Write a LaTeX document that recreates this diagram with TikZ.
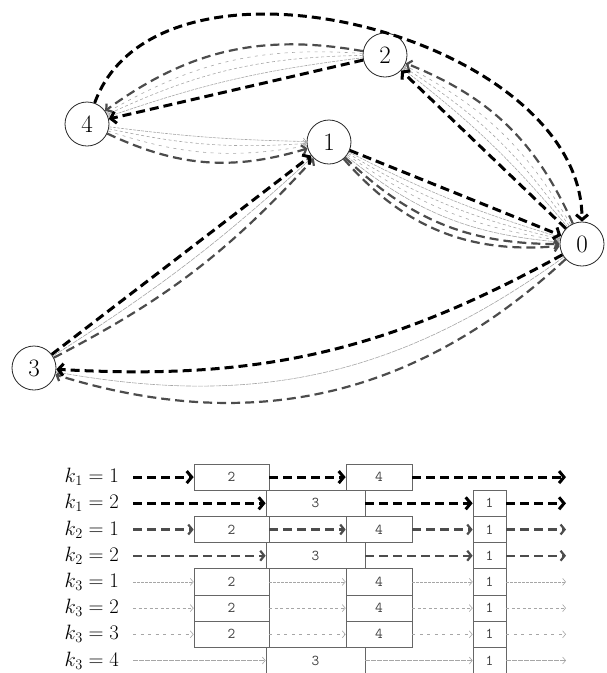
\documentclass[tikz,border=0pt]{standalone}
\usetikzlibrary{arrows.meta}
\begin{document}
\begin{tikzpicture}[x=1pt,y=1pt,
  vnode/.style={circle, draw=black!85, line width=0.8pt, minimum size=44pt, inner sep=0pt, fill=white, font=\fontsize{25}{29}\selectfont},
  kone/.style={draw=black, line width=3pt, dash pattern=on 9pt off 5pt, -{Straight Barb[length=5pt,width=12pt]}},
  ktwo/.style={draw=black!70, line width=2.2pt, dash pattern=on 9pt off 5pt, -{Straight Barb[length=4pt,width=10pt]}},
  kthree/.style={draw=black!35, line width=0.6pt, -{Straight Barb[length=3pt,width=7pt]}},
  kthreea/.style={kthree, dash pattern=on 3pt off 1pt},
  kthreeb/.style={kthree, dash pattern=on 3pt off 2.5pt},
  kthreec/.style={kthree, dash pattern=on 3pt off 4.5pt},
  kthreed/.style={kthree, dash pattern=on 5pt off 1pt},
  box/.style={draw=black!60, line width=0.7pt, inner sep=0pt, minimum height=26.2pt, fill=white, font=\ttfamily\fontsize{15}{17}\selectfont, text=black!75},
  lab/.style={anchor=base east, inner sep=0pt, font=\fontsize{22}{24}\selectfont}
]
\useasboundingbox (0,0) rectangle (606,-673);

% ---------- graph nodes ----------
\node[vnode] (n0) at (582,-244) {0};
\node[vnode] (n1) at (329,-142) {1};
\node[vnode] (n2) at (385,-55) {2};
\node[vnode] (n3) at (34,-368) {3};
\node[vnode] (n4) at (87,-124) {4};

% ---------- k3 routes (thin) ----------
\draw[kthreea] (n0) to[bend right=6] (n2);
\draw[kthreeb] (n0) to[bend right=11] (n2);
\draw[kthreec] (n0) to[bend right=16] (n2);
\draw[kthreea] (n2) to[bend right=6] (n4);
\draw[kthreeb] (n2) to[bend right=12] (n4);
\draw[kthreec] (n2) to[bend right=17] (n4);
\draw[kthreea] (n4) to[bend right=3] (n1);
\draw[kthreeb] (n4) to[bend right=8] (n1);
\draw[kthreec] (n4) to[bend right=14] (n1);
\draw[kthreea] (n1) to[bend right=5] (n0);
\draw[kthreeb] (n1) to[bend right=9] (n0);
\draw[kthreec] (n1) to[bend right=13] (n0);
\draw[kthreed] (n1) to[bend right=17] (n0);
\draw[kthreed] (n0) to[bend left=23] (n3);
\draw[kthreed] (n3) to[bend right=5] (n1);

% ---------- k2 routes ----------
\draw[ktwo] (n0) to[bend right=22] (n2);
\draw[ktwo] (n2) to[bend right=23] (n4);
\draw[ktwo] (n4) to[bend right=21] (n1);
\draw[ktwo] (n1) to[bend right=27] (n0);
\draw[ktwo] (n1) to[bend right=22] (n0);
\draw[ktwo] (n0) to[bend left=30] (n3);
\draw[ktwo] (n3) to[bend right=10] (n1);

% ---------- k1 routes ----------
\draw[kone] (n0) to (n2);
\draw[kone] (n2) to (n4);
\draw[kone] (n4) to[out=70,in=90,looseness=0.95] (n0);
\draw[kone] (n0) to[bend left=16] (n3);
\draw[kone] (n3) to (n1);
\draw[kone] (n1) to (n0);

% ---------- timeline ----------
% row 1
\node[lab] (l1) at (119,-482.6) {$k_1 = 1$};
\coordinate (s1) at (133,-477.1); \coordinate (e1) at (566,-477.1);
\node[box, minimum width=75pt] (r1a) at (231.5,-477.1) {2};
\node[box, minimum width=66pt] (r1b) at (379,-477.1) {4};
\draw[kone] (s1) -- (r1a.west);
\draw[kone] (r1a.east) -- (r1b.west);
\draw[kone] (r1b.east) -- (e1);
% row 2
\node[lab] (l2) at (119,-508.8) {$k_1 = 2$};
\coordinate (s2) at (133,-503.3); \coordinate (e2) at (566,-503.3);
\node[box, minimum width=99pt] (r2a) at (315.5,-503.3) {3};
\node[box, minimum width=33pt] (r2b) at (489.5,-503.3) {1};
\draw[kone] (s2) -- (r2a.west);
\draw[kone] (r2a.east) -- (r2b.west);
\draw[kone] (r2b.east) -- (e2);
% row 3
\node[lab] (l3) at (119,-535) {$k_2 = 1$};
\coordinate (s3) at (133,-529.5); \coordinate (e3) at (566,-529.5);
\node[box, minimum width=75pt] (r3a) at (231.5,-529.5) {2};
\node[box, minimum width=66pt] (r3b) at (379,-529.5) {4};
\node[box, minimum width=33pt] (r3c) at (489.5,-529.5) {1};
\draw[ktwo] (s3) -- (r3a.west);
\draw[ktwo] (r3a.east) -- (r3b.west);
\draw[ktwo] (r3b.east) -- (r3c.west);
\draw[ktwo] (r3c.east) -- (e3);
% row 4
\node[lab] (l4) at (119,-561.2) {$k_2 = 2$};
\coordinate (s4) at (133,-555.7); \coordinate (e4) at (566,-555.7);
\node[box, minimum width=99pt] (r4a) at (315.5,-555.7) {3};
\node[box, minimum width=33pt] (r4b) at (489.5,-555.7) {1};
\draw[ktwo] (s4) -- (r4a.west);
\draw[ktwo] (r4a.east) -- (r4b.west);
\draw[ktwo] (r4b.east) -- (e4);
% row 5
\node[lab] (l5) at (119,-587.4) {$k_3 = 1$};
\coordinate (s5) at (133,-581.9); \coordinate (e5) at (566,-581.9);
\node[box, minimum width=75pt] (r5a) at (231.5,-581.9) {2};
\node[box, minimum width=66pt] (r5b) at (379,-581.9) {4};
\node[box, minimum width=33pt] (r5c) at (489.5,-581.9) {1};
\draw[kthreea] (s5) -- (r5a.west);
\draw[kthreea] (r5a.east) -- (r5b.west);
\draw[kthreea] (r5b.east) -- (r5c.west);
\draw[kthreea] (r5c.east) -- (e5);
% row 6
\node[lab] (l6) at (119,-613.6) {$k_3 = 2$};
\coordinate (s6) at (133,-608.1); \coordinate (e6) at (566,-608.1);
\node[box, minimum width=75pt] (r6a) at (231.5,-608.1) {2};
\node[box, minimum width=66pt] (r6b) at (379,-608.1) {4};
\node[box, minimum width=33pt] (r6c) at (489.5,-608.1) {1};
\draw[kthreeb] (s6) -- (r6a.west);
\draw[kthreeb] (r6a.east) -- (r6b.west);
\draw[kthreeb] (r6b.east) -- (r6c.west);
\draw[kthreeb] (r6c.east) -- (e6);
% row 7
\node[lab] (l7) at (119,-639.8) {$k_3 = 3$};
\coordinate (s7) at (133,-634.3); \coordinate (e7) at (566,-634.3);
\node[box, minimum width=75pt] (r7a) at (231.5,-634.3) {2};
\node[box, minimum width=66pt] (r7b) at (379,-634.3) {4};
\node[box, minimum width=33pt] (r7c) at (489.5,-634.3) {1};
\draw[kthreec] (s7) -- (r7a.west);
\draw[kthreec] (r7a.east) -- (r7b.west);
\draw[kthreec] (r7b.east) -- (r7c.west);
\draw[kthreec] (r7c.east) -- (e7);
% row 8
\node[lab] (l8) at (119,-666) {$k_3 = 4$};
\coordinate (s8) at (133,-660.5); \coordinate (e8) at (566,-660.5);
\node[box, minimum width=99pt] (r8a) at (315.5,-660.5) {3};
\node[box, minimum width=33pt] (r8b) at (489.5,-660.5) {1};
\draw[kthreed] (s8) -- (r8a.west);
\draw[kthreed] (r8a.east) -- (r8b.west);
\draw[kthreed] (r8b.east) -- (e8);
\end{tikzpicture}
\end{document}
